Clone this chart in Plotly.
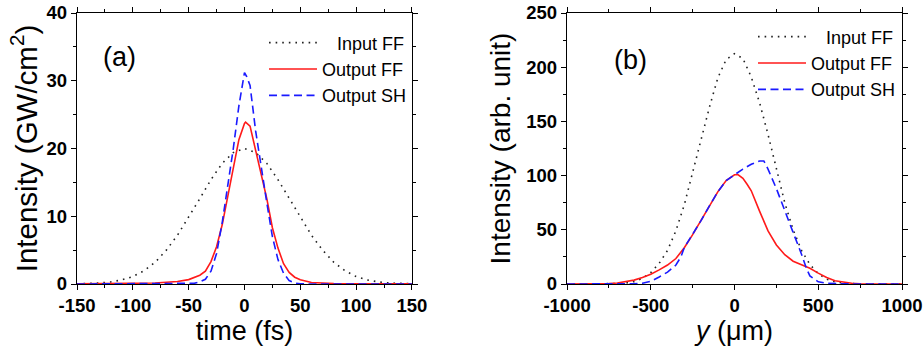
import plotly.graph_objects as go
from plotly.subplots import make_subplots

# ---------------- Panel (a): temporal profiles ----------------
t_input = [-150, -140, -130, -120, -110, -100, -90, -80, -70, -60, -50, -40, -30, -20, -10,
           0, 10, 20, 30, 40, 50, 60, 70, 80, 90, 100, 110, 120, 130, 140, 150]
a_input_ff = [0.03, 0.07, 0.15, 0.3, 0.6, 1.1, 1.95, 3.2, 5.0, 7.2, 9.8, 12.6, 15.4, 17.8, 19.4,
              20.0, 19.4, 17.8, 15.4, 12.6, 9.8, 7.2, 5.0, 3.2, 1.95, 1.1, 0.6, 0.3, 0.15, 0.07, 0.03]

t_out_ff = [-150, -120, -100, -80, -70, -60, -50, -45, -40, -35, -30, -25, -20, -15, -10, -5,
            0, 1, 5, 10, 15, 20, 25, 30, 35, 40, 45, 50, 60, 70, 80, 100, 120, 150]
a_output_ff = [0.02, 0.04, 0.07, 0.15, 0.25, 0.38, 0.65, 0.95, 1.3, 1.9, 3.3, 5.5, 8.7, 12.9, 17.2, 21.3,
               23.7, 23.9, 23.3, 19.8, 16.0, 12.6, 8.3, 5.3, 3.0, 1.7, 1.0, 0.62, 0.22, 0.12, 0.07, 0.04, 0.03, 0.02]

t_out_sh = [-150, -60, -50, -45, -40, -35, -30, -25, -20, -15, -10, -5, 0, 2, 5, 10, 15, 20, 25,
            30, 35, 40, 45, 50, 60, 150]
a_output_sh = [0.0, 0.0, 0.03, 0.1, 0.3, 0.7, 1.9, 4.5, 9.0, 14.5, 20.0, 26.3, 31.2, 30.6, 29.3, 22.6,
               17.0, 12.0, 7.0, 3.6, 1.6, 0.5, 0.15, 0.03, 0.0, 0.0]

# ---------------- Panel (b): spatial profiles ----------------
y_input = [-1000, -800, -750, -700, -650, -600, -550, -500, -450, -400, -350, -300, -250, -200, -150,
           -100, -50, 0, 50, 100, 150, 200, 250, 300, 350, 400, 450, 500, 550, 600, 650, 700, 750, 800, 1000]
b_input_ff = [0, 0.05, 0.15, 0.4, 0.9, 2.2, 5.2, 10.5, 19, 31, 49, 73, 103, 133, 163,
              190, 207, 212.5, 208, 191, 167, 138, 106, 75, 50, 31, 18, 9.5, 4.5, 2, 0.8, 0.3, 0.1, 0.03, 0]

y_out_ff = [-1000, -800, -750, -700, -650, -600, -550, -500, -450, -400, -350, -300, -250, -200, -150,
            -100, -50, 0, 20, 50, 75, 100, 150, 200, 250, 300, 350, 400, 450, 500, 550, 600, 650, 700,
            750, 800, 1000]
b_output_ff = [0, 0.1, 0.35, 0.9, 2.0, 3.6, 6.0, 9.0, 13.0, 17.5, 23.5, 33.5, 45.5, 58.5, 72,
               85, 95.5, 100.8, 101, 97.5, 92, 86, 67, 49, 36, 27, 21, 18, 14.5, 10, 6, 3, 1.5, 0.7,
               0.2, 0.05, 0]

y_out_sh = [-1000, -700, -650, -600, -550, -500, -450, -400, -350, -320, -300, -250, -200, -150, -100,
            -50, 0, 50, 100, 150, 175, 200, 250, 300, 350, 400, 430, 450, 500, 550, 600, 700, 1000]
b_output_sh = [0, 0, 0.05, 0.2, 0.7, 2.5, 6.5, 11, 17.5, 25, 33.5, 45.5, 58.5, 72, 85,
               95.5, 101, 106, 110.5, 113.5, 113.5, 106, 88, 67, 47.5, 27.5, 14, 7.5, 2, 0.6, 0.2, 0, 0]

# ---------------- Tick values / labels ----------------
a_xticks = [-150, -100, -50, 0, 50, 100, 150]
a_xminor = [-125, -75, -25, 25, 75, 125]
a_yticks = [0, 10, 20, 30, 40]
a_yminor = [5, 15, 25, 35]
b_xticks = [-1000, -500, 0, 500, 1000]
b_xminor = [-750, -250, 250, 750]
b_yticks = [0, 50, 100, 150, 200, 250]
b_yminor = [25, 75, 125, 175, 225]

names = ["\u00a0\u00a0\u00a0Input FF", "Output FF", "Output SH"]


def bold_labels(vals):
    return ["<b>%d</b>" % v for v in vals]


FONT = "Arial, 'Liberation Sans', Helvetica, sans-serif"
dot_style = dict(color="#222222", width=1.6, dash="1.6px,5px")
red_style = dict(color="#ff1a1a", width=1.6)
blue_style = dict(color="#1a1aff", width=1.6, dash="8px,4.5px")

fig = make_subplots(rows=1, cols=2, horizontal_spacing=0.188)

fig.add_trace(go.Scatter(x=t_input, y=a_input_ff, mode="lines", name=names[0],
                         line=dot_style, legend="legend"), row=1, col=1)
fig.add_trace(go.Scatter(x=t_out_ff, y=a_output_ff, mode="lines", name=names[1],
                         line=red_style, legend="legend"), row=1, col=1)
fig.add_trace(go.Scatter(x=t_out_sh, y=a_output_sh, mode="lines", name=names[2],
                         line=blue_style, legend="legend"), row=1, col=1)

fig.add_trace(go.Scatter(x=y_input, y=b_input_ff, mode="lines", name=names[0],
                         line=dot_style, legend="legend2"), row=1, col=2)
fig.add_trace(go.Scatter(x=y_out_ff, y=b_output_ff, mode="lines", name=names[1],
                         line=red_style, legend="legend2"), row=1, col=2)
fig.add_trace(go.Scatter(x=y_out_sh, y=b_output_sh, mode="lines", name=names[2],
                         line=blue_style, legend="legend2"), row=1, col=2)

axis_common = dict(
    showline=True, linecolor="black", linewidth=1.4, mirror="allticks",
    ticks="outside", ticklen=5, tickwidth=1.3, tickcolor="black",
    showgrid=False, zeroline=False, automargin=False,
    tickfont=dict(family=FONT, size=18.5, color="black"),
)
minor_common = dict(ticks="outside", ticklen=3, tickwidth=1.2, tickcolor="black",
                    showgrid=False, tickmode="array")

fig.update_xaxes(axis_common)
fig.update_yaxes(axis_common)

fig.update_xaxes(row=1, col=1, range=[-150, 150], tickmode="array",
                 tickvals=a_xticks, ticktext=bold_labels(a_xticks),
                 minor=dict(minor_common, tickvals=a_xminor),
                 title=dict(text="time (fs)", font=dict(family=FONT, size=27, color="black"), standoff=0))
fig.update_yaxes(row=1, col=1, range=[0, 40], tickmode="array",
                 tickvals=a_yticks, ticktext=bold_labels(a_yticks),
                 minor=dict(minor_common, tickvals=a_yminor),
                 title=dict(text="Intensity (GW/cm<sup>2</sup>)", font=dict(family=FONT, size=29.5, color="black"), standoff=0))
fig.update_xaxes(row=1, col=2, range=[-1000, 1000], tickmode="array",
                 tickvals=b_xticks, ticktext=bold_labels(b_xticks),
                 minor=dict(minor_common, tickvals=b_xminor),
                 title=dict(text="<i>y</i> (\u03bcm)", font=dict(family=FONT, size=27, color="black"), standoff=0))
fig.update_yaxes(row=1, col=2, range=[0, 250], tickmode="array",
                 tickvals=b_yticks, ticktext=bold_labels(b_yticks),
                 minor=dict(minor_common, tickvals=b_yminor),
                 title=dict(text="Intensity (arb. unit)", font=dict(family=FONT, size=28, color="black"), standoff=7))

legend_common = dict(
    font=dict(family=FONT, size=18, color="black"),
    bgcolor="rgba(0,0,0,0)", borderwidth=0,
    xanchor="left", yanchor="top", itemwidth=48, tracegroupgap=0,
    traceorder="normal",
)

fig.update_layout(
    width=924, height=346,
    margin=dict(l=77, r=22, t=13, b=62),
    paper_bgcolor="white", plot_bgcolor="white",
    showlegend=True,
    legend=dict(legend_common, x=0.2267, y=0.958),
    legend2=dict(legend_common, x=0.8194, y=0.98),
    annotations=[
        dict(text="(a)", xref="x domain", yref="y domain", x=0.128, y=0.838,
             xanchor="center", yanchor="middle",
             showarrow=False, font=dict(family=FONT, size=27, color="black")),
        dict(text="(b)", xref="x2 domain", yref="y2 domain", x=0.19, y=0.827,
             xanchor="center", yanchor="middle",
             showarrow=False, font=dict(family=FONT, size=27, color="black")),
    ],
)

fig.write_html("out.html")
